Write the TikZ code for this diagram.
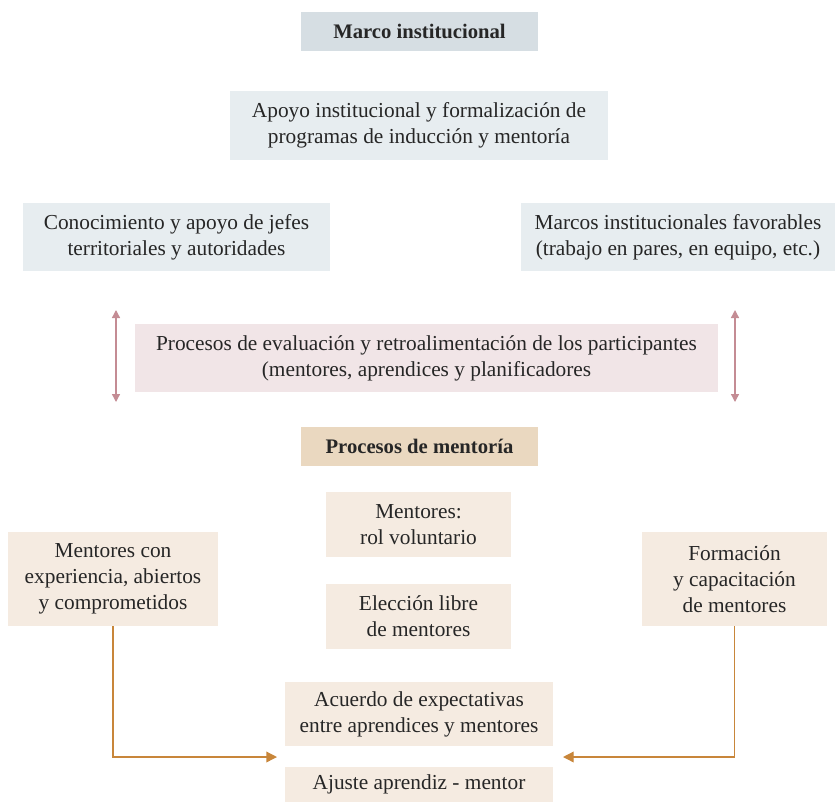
\documentclass[tikz,border=0pt]{standalone}
\usepackage{fontspec}
\setmainfont{Liberation Serif}
\usetikzlibrary{arrows.meta}

\definecolor{headblue}{HTML}{D6DEE3}
\definecolor{boxblue}{HTML}{E7EDF0}
\definecolor{boxpink}{HTML}{F1E5E7}
\definecolor{arrowpink}{HTML}{C48C94}
\definecolor{headtan}{HTML}{EAD8C0}
\definecolor{boxtan}{HTML}{F5EBE1}
\definecolor{arrowtan}{HTML}{C8863A}

\tikzset{
  box/.style={inner sep=0pt, align=center, font=\fontsize{16}{19.5}\selectfont, text=black!85},
  head/.style={box, font=\fontsize{15.5}{19.5}\selectfont\bfseries},
  pinkarrow/.style={draw=arrowpink, line width=1pt, {Triangle[width=6pt,length=6pt]}-{Triangle[width=6pt,length=6pt]}},
  tanarrow/.style={draw=arrowtan, line width=1pt, -{Triangle[width=8pt,length=8pt]}}
}

\begin{document}
\begin{tikzpicture}[x=0.75pt, y=-0.75pt]

\useasboundingbox (0,0) rectangle (838,803);

\node[head, fill=headblue, minimum width=237*0.75pt, minimum height=39*0.75pt] (marco) at (419.5,31.5) {Marco institucional};
\node[box, fill=boxblue, minimum width=378*0.75pt, minimum height=69*0.75pt] (apoyo) at (419,125.5) {Apoyo institucional y formalización de\\programas de inducción y mentoría};
\node[box, fill=boxblue, minimum width=307*0.75pt, minimum height=68*0.75pt] (jefes) at (176.5,237) {Conocimiento y apoyo de jefes\\territoriales y autoridades};
\node[box, fill=boxblue, minimum width=314*0.75pt, minimum height=68*0.75pt] (marcos) at (678,237) {Marcos institucionales favorables\\(trabajo en pares, en equipo, etc.)};
\node[box, fill=boxpink, minimum width=583*0.75pt, minimum height=68*0.75pt] (evaluacion) at (426.5,358) {Procesos de evaluación y retroalimentación de los participantes\\(mentores, aprendices y planificadores};

\coordinate (evalTL) at (116,310);
\coordinate (evalBL) at (116,402);
\coordinate (evalTR) at (735,310);
\coordinate (evalBR) at (735,402);
\draw[pinkarrow] (evalTL) -- (evalBL);
\draw[pinkarrow] (evalTR) -- (evalBR);

\node[head, fill=headtan, minimum width=237*0.75pt, minimum height=39*0.75pt] (mentoria) at (419.5,446.5) {Procesos de mentoría};
\node[box, fill=boxtan, minimum width=185*0.75pt, minimum height=65*0.75pt] (voluntario) at (418.5,524.5) {Mentores:\\rol voluntario};
\node[box, fill=boxtan, minimum width=185*0.75pt, minimum height=65*0.75pt] (eleccion) at (418.5,616.5) {Elección libre\\de mentores};
\node[box, fill=boxtan, minimum width=210*0.75pt, minimum height=94*0.75pt] (experiencia) at (113,579) {Mentores con\\experiencia, abiertos\\y comprometidos};
\node[box, fill=boxtan, minimum width=185*0.75pt, minimum height=94*0.75pt] (formacion) at (734.5,579) {Formación\\y capacitación\\de mentores};
\node[box, fill=boxtan, minimum width=268*0.75pt, minimum height=64*0.75pt] (acuerdo) at (419,714) {Acuerdo de expectativas\\entre aprendices y mentores};
\node[box, fill=boxtan, minimum width=268*0.75pt, minimum height=35*0.75pt] (ajuste) at (419,784.5) {Ajuste aprendiz - mentor};

\coordinate (leftEnd) at (277,757);
\coordinate (rightEnd) at (563,757);
\draw[tanarrow] (experiencia.south) |- (leftEnd);
\draw[tanarrow] (formacion.south) |- (rightEnd);

\end{tikzpicture}
\end{document}
